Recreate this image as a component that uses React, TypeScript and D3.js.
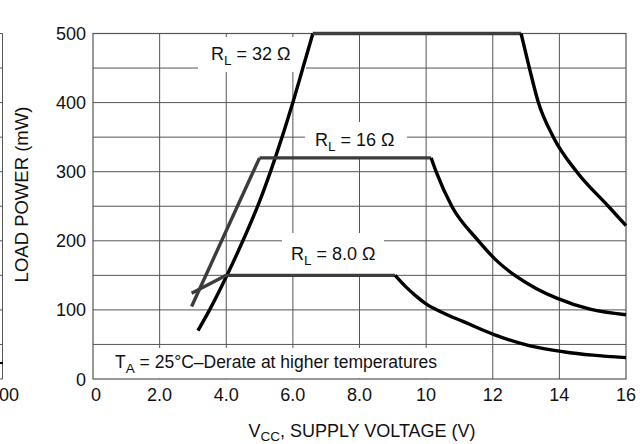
import React from "react";
import * as d3 from "d3";

// Supply voltage axis (V) and load power axis (mW)
const X_TICKS = [0, 2, 4, 6, 8, 10, 12, 14, 16];
const X_TICK_LABELS = ["0", "2.0", "4.0", "6.0", "8.0", "10", "12", "14", "16"];
const Y_TICKS = [0, 100, 200, 300, 400, 500];
const Y_TICK_LABELS = ["0", "100", "200", "300", "400", "500"];
const Y_GRID = [50, 100, 150, 200, 250, 300, 350, 400, 450];
const X_GRID = [2, 4, 6, 8, 10, 12, 14];

// R_L = 32 ohm
const RL32_RISE: [number, number][] = [
  [3.15, 70], [3.5, 100], [4.0, 148], [4.5, 200], [5.0, 257], [5.47, 320],
  [6.0, 400], [6.3, 450], [6.6, 500],
];
const RL32_PLATEAU: [number, number][] = [[6.6, 500], [12.85, 500]];
const RL32_FALL: [number, number][] = [
  [12.85, 500], [13.1, 450], [13.37, 400], [13.82, 350], [14.52, 300],
  [15.47, 250], [16, 222],
];

// R_L = 16 ohm
const RL16_RISE: [number, number][] = [[2.96, 105], [5.0, 320]];
const RL16_PLATEAU: [number, number][] = [[5.0, 320], [10.15, 320]];
const RL16_FALL: [number, number][] = [
  [10.15, 320], [10.3, 300], [10.77, 250], [11.57, 200], [12.1, 172],
  [12.72, 148], [13.3, 131], [13.92, 117], [14.92, 101], [16, 93],
];

// R_L = 8.0 ohm
const RL8_RISE: [number, number][] = [[2.96, 124], [4.0, 150]];
const RL8_PLATEAU: [number, number][] = [[4.0, 150], [9.07, 150]];
const RL8_FALL: [number, number][] = [
  [9.07, 150], [9.4, 133], [9.7, 120], [10.02, 108], [10.5, 96], [11.12, 83],
  [12.02, 64.5], [13.12, 48], [14.12, 39.5], [15, 34.5], [16, 31],
];

const W = 643;
const H = 444;
const LEFT = 93;
const RIGHT = 626;
const TOP = 33.5;
const BOTTOM = 379;

const FONT = "'Liberation Sans', Arial, Helvetica, sans-serif";
const GRID = "#555";
const INK = "#111";
const GREY_LINE = "#3c3c3c";

export default function App() {
  const x = d3.scaleLinear().domain([0, 16]).range([LEFT, RIGHT]);
  const y = d3.scaleLinear().domain([0, 500]).range([BOTTOM, TOP]);

  const smooth = d3
    .line<[number, number]>()
    .x((d) => x(d[0]))
    .y((d) => y(d[1]))
    .curve(d3.curveMonotoneX);
  const straight = d3
    .line<[number, number]>()
    .x((d) => x(d[0]))
    .y((d) => y(d[1]));

  const curveProps = { fill: "none", strokeWidth: 3.4, strokeLinejoin: "round" as const };

  // white patches behind the in-plot labels
  const patches = [
    { x0: 198, x1: 306, y0: 37, y1: 72 },
    { x0: 305, x1: 407, y0: 122, y1: 158 },
    { x0: 282, x1: 384, y0: 233, y1: 275 },
    { x0: LEFT + 0.5, x1: 440, y0: 348, y1: BOTTOM - 0.5 },
  ];

  return (
    <svg
      width={W}
      height={H}
      viewBox={`0 0 ${W} ${H}`}
      style={{ position: "absolute", left: 0, top: 0, display: "block", background: "#fff" }}
    >
      <rect x={0} y={0} width={W} height={H} fill="#fff" />

      {/* edge of the neighbouring panel */}
      <g stroke={GRID} strokeWidth={1}>
        <line x1={2.5} x2={2.5} y1={TOP} y2={BOTTOM} />
        {[0, ...Y_GRID, 500].map((v) => (
          <line key={v} x1={0} x2={2.5} y1={y(v)} y2={y(v)} />
        ))}
      </g>
      <line x1={0} x2={3} y1={363} y2={363} stroke="#000" strokeWidth={2} />
      <text x={-1} y={401} fontFamily={FONT} fontSize={18} fill={INK}>
        00
      </text>

      {/* grid */}
      <g stroke={GRID} strokeWidth={1}>
        {Y_GRID.map((v) => (
          <line key={"h" + v} x1={LEFT} x2={RIGHT} y1={y(v)} y2={y(v)} />
        ))}
        {X_GRID.map((v) => (
          <line key={"v" + v} x1={x(v)} x2={x(v)} y1={TOP} y2={BOTTOM} />
        ))}
      </g>

      {patches.map((p, i) => (
        <rect key={i} x={p.x0} y={p.y0} width={p.x1 - p.x0} height={p.y1 - p.y0} fill="#fff" />
      ))}

      {/* frame */}
      <rect
        x={LEFT}
        y={TOP}
        width={RIGHT - LEFT}
        height={BOTTOM - TOP}
        fill="none"
        stroke={GRID}
        strokeWidth={1.2}
      />

      {/* curves */}
      <path d={smooth(RL32_RISE) || ""} stroke="#000" {...curveProps} />
      <path d={straight(RL32_PLATEAU) || ""} stroke={GREY_LINE} {...curveProps} />
      <path d={smooth(RL32_FALL) || ""} stroke="#000" {...curveProps} />

      <path d={straight(RL16_RISE) || ""} stroke={GREY_LINE} {...curveProps} />
      <path d={straight(RL16_PLATEAU) || ""} stroke={GREY_LINE} {...curveProps} />
      <path d={smooth(RL16_FALL) || ""} stroke="#000" {...curveProps} />

      <path d={straight(RL8_RISE) || ""} stroke={GREY_LINE} {...curveProps} />
      <path d={straight(RL8_PLATEAU) || ""} stroke={GREY_LINE} {...curveProps} />
      <path d={smooth(RL8_FALL) || ""} stroke="#000" {...curveProps} />

      {/* tick labels */}
      <g fontFamily={FONT} fontSize={18} fill={INK}>
        {X_TICKS.map((v, i) => (
          <text key={"xt" + v} x={x(v) + (v === 0 ? 3 : 0)} y={401} textAnchor="middle">
            {X_TICK_LABELS[i]}
          </text>
        ))}
        {Y_TICKS.map((v, i) => (
          <text key={"yt" + v} x={86} y={y(v) + 6.5} textAnchor="end">
            {Y_TICK_LABELS[i]}
          </text>
        ))}
      </g>

      {/* axis titles */}
      <text
        transform="translate(28,194.5) rotate(-90)"
        textAnchor="middle"
        fontFamily={FONT}
        fontSize={18.5}
        fill={INK}
      >
        LOAD POWER (mW)
      </text>
      <text x={362} y={436.5} textAnchor="middle" fontFamily={FONT} fontSize={18} fill={INK}>
        V
        <tspan fontSize={13.5} dy={4}>
          CC
        </tspan>
        <tspan dy={-4}>, SUPPLY VOLTAGE (V)</tspan>
      </text>

      {/* curve labels */}
      <g fontFamily={FONT} fontSize={18} fill={INK}>
        <text x={211} y={60}>
          R
          <tspan fontSize={13.5} dy={5}>
            L
          </tspan>
          <tspan dy={-5}> = 32 Ω</tspan>
        </text>
        <text x={315} y={146}>
          R
          <tspan fontSize={13.5} dy={5}>
            L
          </tspan>
          <tspan dy={-5}> = 16 Ω</tspan>
        </text>
        <text x={291} y={260}>
          R
          <tspan fontSize={13.5} dy={5}>
            L
          </tspan>
          <tspan dy={-5}> = 8.0 Ω</tspan>
        </text>
        <text x={115} y={368} fontSize={17.5}>
          T
          <tspan fontSize={13.5} dy={5}>
            A
          </tspan>
          <tspan dy={-5}> = 25°C–Derate at higher temperatures</tspan>
        </text>
      </g>
    </svg>
  );
}
